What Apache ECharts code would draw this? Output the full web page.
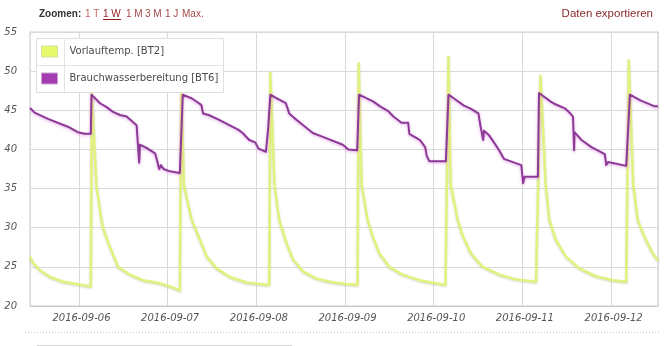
<!DOCTYPE html>
<html>
<head>
<meta charset="utf-8">
<script src="https://cdn.jsdelivr.net/npm/echarts@6/dist/echarts.min.js"></script>
<style>
html,body{margin:0;padding:0;background:#fff;}
#c{width:672px;height:346px;}
</style>
</head>
<body>
<div id="c"></div>
<script>
// Hours since 2016-09-05 00:00 (local time)
const startDay = [2016, 8, 5];
const axisStartHour = 10.75;
const axisEndHour = 180.7;

const seriesNames = ['Vorlauftemp. [BT2]', 'Brauchwasserbereitung [BT6]'];

const bt2Hours = [10.75, 11.6, 13.4, 16.2, 19.8, 23.4, 27.2, 27.5, 28.7, 30.1, 30.5, 32.4, 34.6, 37.8, 41.3, 45.1, 48.6, 51.3, 51.5, 51.7, 52.4, 54.5, 56.8, 58.6, 61.3, 64.9, 69.4, 74.8, 75.5, 75.8, 76.9, 78.2, 80.2, 82.0, 84.7, 88.3, 92.8, 96.3, 99.4, 99.7, 100.5, 102.1, 103.5, 105.3, 108.0, 111.6, 116.1, 120.6, 123.2, 124.0, 124.6, 126.5, 127.9, 130.1, 133.3, 137.8, 142.3, 147.7, 148.2, 148.9, 150.3, 151.3, 153.1, 155.8, 159.4, 163.9, 168.5, 172.1, 172.8, 174.0, 175.2, 177.0, 179.3, 180.7];
const bt2Values = [26.3, 25.5, 24.6, 23.7, 23.1, 22.8, 22.5, 47.3, 35.5, 31.0, 30.0, 27.5, 25.0, 24.0, 23.3, 23.0, 22.5, 22.0, 21.9, 47.8, 35.5, 31.0, 28.4, 26.3, 24.8, 23.7, 23.0, 22.7, 22.7, 49.8, 35.5, 31.0, 28.0, 25.9, 24.4, 23.5, 23.0, 22.8, 22.7, 51.0, 35.5, 31.0, 28.9, 26.7, 25.0, 24.0, 23.3, 22.9, 22.7, 51.8, 35.5, 31.0, 28.9, 26.7, 25.0, 24.0, 23.4, 23.1, 23.0, 49.4, 35.5, 31.0, 28.4, 26.3, 24.8, 23.8, 23.3, 23.1, 51.4, 35.5, 31.0, 28.9, 26.7, 25.8];

const bt6Hours = [10.75, 12.0, 15.6, 21.0, 23.7, 25.5, 27.2, 27.4, 29.7, 31.5, 33.2, 35.1, 36.9, 39.6, 40.1, 40.3, 40.5, 42.3, 44.6, 45.2, 45.7, 46.2, 46.9, 48.6, 51.3, 52.1, 54.6, 57.1, 57.6, 59.1, 61.8, 67.2, 68.3, 70.1, 71.7, 72.6, 74.6, 75.2, 75.8, 77.3, 80.0, 80.9, 82.3, 84.1, 87.3, 90.0, 95.4, 96.9, 99.3, 99.8, 103.7, 105.5, 107.7, 109.1, 111.3, 113.1, 113.4, 116.3, 117.7, 118.1, 118.8, 123.3, 124.0, 125.5, 128.2, 130.0, 132.1, 132.7, 133.4, 133.6, 135.0, 136.3, 137.7, 139.0, 143.7, 144.2, 144.6, 148.2, 148.5, 151.7, 152.8, 155.5, 156.8, 157.7, 158.0, 158.1, 160.0, 162.7, 166.3, 166.7, 167.2, 172.1, 173.1, 175.8, 179.8, 180.7];
const bt6Values = [45.3, 44.7, 43.9, 42.9, 42.2, 42.0, 42.0, 47.0, 45.9, 45.4, 44.8, 44.4, 44.2, 43.1, 43.0, 38.3, 40.6, 40.2, 39.5, 38.5, 37.5, 38.0, 37.5, 37.2, 37.0, 47.0, 46.5, 45.7, 44.6, 44.4, 43.8, 42.5, 42.1, 41.2, 40.9, 40.1, 39.7, 42.7, 47.0, 46.6, 45.9, 44.6, 44.0, 43.3, 42.1, 41.6, 40.6, 40.0, 39.9, 47.0, 46.1, 45.5, 44.9, 44.2, 43.4, 43.4, 42.0, 41.2, 40.3, 39.2, 38.5, 38.5, 47.0, 46.5, 45.6, 45.2, 44.6, 42.9, 41.2, 42.4, 41.8, 40.9, 39.9, 38.8, 38.0, 35.7, 36.5, 36.5, 47.2, 46.1, 45.8, 45.25, 44.7, 44.2, 39.9, 42.2, 41.2, 40.3, 39.4, 38.0, 38.4, 37.9, 47.0, 46.3, 45.5, 45.5];

const yMin = 20, yMax = 55, yStep = 5;

const base = new Date(startDay[0], startDay[1], startDay[2]).getTime();
const toTime = h => base + h * 3600000;
const pairs = (hs, vs) => hs.map((h, i) => [toTime(h), vs[i]]);

const FONT = '"DejaVu Sans", Verdana, sans-serif';
const HFONT = '"Liberation Sans", Arial, sans-serif';
const chart = echarts.init(document.getElementById('c'), null, {renderer: 'canvas'});

const linkRed = '#a84848';
const hText = (x, text, fill, extra) => ({type: 'text', x: x, y: 14, style: Object.assign({text: text, fill: fill, font: '10px ' + HFONT, verticalAlign: 'middle'}, extra || {})});
chart.setOption({
  animation: false,
  backgroundColor: '#fff',
  grid: {left: 30, right: 14, top: 32, bottom: 40, show: true, borderColor: '#cfcfcf', borderWidth: 1},
  xAxis: {
    type: 'time',
    min: toTime(axisStartHour),
    max: toTime(axisEndHour),
    minInterval: 24 * 3600000,
    maxInterval: 24 * 3600000,
    axisLine: {show: true, lineStyle: {color: '#c8c8c8'}},
    axisTick: {show: false},
    splitLine: {show: true, lineStyle: {color: '#d9d9d9', width: 1}},
    axisLabel: {
      formatter: '{yyyy}-{MM}-{dd}',
      showMinLabel: false, showMaxLabel: false,
      color: '#555', fontStyle: 'italic', fontSize: 10, fontFamily: FONT, margin: 7,
      padding: [0, 0, 0, 5]
    }
  },
  yAxis: {
    type: 'value', min: yMin, max: yMax, interval: yStep,
    axisLine: {show: false}, axisTick: {show: false},
    splitLine: {lineStyle: {color: '#d9d9d9', width: 1}},
    axisLabel: {color: '#555', fontStyle: 'italic', fontSize: 10, fontFamily: FONT, margin: 13}
  },
  legend: {
    orient: 'vertical', left: 41, top: 44.5, padding: 0, itemGap: 13, z: 20,
    itemWidth: 16, itemHeight: 11, icon: 'rect', selectedMode: false,
    textStyle: {color: '#4a4a4a', fontSize: 10, fontFamily: FONT, lineHeight: 14, padding: [0, 0, 0, 7]},
    data: [
      {name: seriesNames[0], itemStyle: {color: '#e6fa6c', borderColor: '#d6dca0', borderWidth: 1}},
      {name: seriesNames[1], itemStyle: {color: '#a43cb2', borderColor: '#c9a0d0', borderWidth: 1}}
    ]
  },
  graphic: [
    {type: 'rect', z: 10, shape: {x: 36.5, y: 38.5, width: 187, height: 54}, style: {fill: '#fff', stroke: '#dedede', lineWidth: 1}},
    {type: 'line', z: 11, shape: {x1: 36.5, y1: 65.5, x2: 223.5, y2: 65.5}, style: {stroke: '#e4e4e4', lineWidth: 1}},
    {type: 'line', z: 11, shape: {x1: 64.5, y1: 38.5, x2: 64.5, y2: 92.5}, style: {stroke: '#e4e4e4', lineWidth: 1}},
    hText(39, 'Zoomen:', '#333', {font: 'bold 10px ' + HFONT}),
    hText(85, '1 T', '#c06868'),
    hText(103, '1 W', '#8b1f1f'),
    {type: 'line', shape: {x1: 103, y1: 19.5, x2: 121, y2: 19.5}, style: {stroke: '#8b1f1f', lineWidth: 1}},
    hText(126, '1 M', linkRed),
    hText(145, '3 M', linkRed),
    hText(165, '1 J', linkRed),
    hText(182, 'Max.', linkRed),
    hText(653, 'Daten exportieren', '#8b2a2a', {align: 'right', font: '11.5px ' + HFONT}),
    {type: 'line', shape: {x1: 25, y1: 332.5, x2: 660, y2: 332.5}, style: {stroke: '#c8c8c8', lineWidth: 1, lineDash: [1, 2]}},
    {type: 'line', shape: {x1: 37, y1: 345.5, x2: 292, y2: 345.5}, style: {stroke: '#d4d4d4', lineWidth: 1}}
  ],
  series: [
    {
      name: seriesNames[0], type: 'line', showSymbol: false, symbol: 'none', z: 2,
      data: pairs(bt2Hours, bt2Values),
      itemStyle: {color: '#e6fa6c'},
      lineStyle: {color: '#e3f27e', width: 2.5, join: 'round', shadowColor: 'rgba(120,120,60,0.3)', shadowBlur: 2, shadowOffsetY: 1}
    },
    {
      name: seriesNames[1], type: 'line', showSymbol: false, symbol: 'none', z: 3,
      data: pairs(bt6Hours, bt6Values),
      itemStyle: {color: '#a43cb2'},
      lineStyle: {color: '#8c3a95', width: 2, join: 'round', shadowColor: 'rgba(210,110,220,0.6)', shadowBlur: 3, shadowOffsetY: 1}
    }
  ]
});
</script>
</body>
</html>
